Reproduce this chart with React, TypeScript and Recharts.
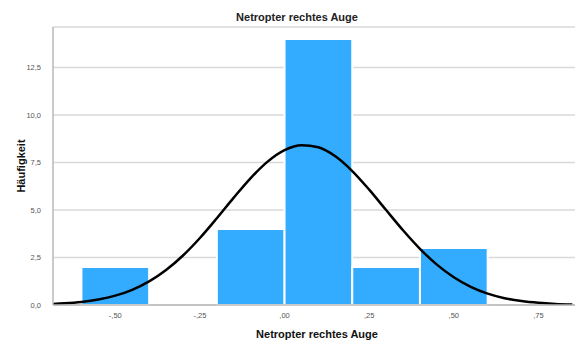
import React from 'react';
import { ComposedChart, Line, XAxis, YAxis, CartesianGrid, ReferenceArea } from 'recharts';

// Histogram bins (Netropter rechtes Auge)
const binStarts = [-0.6, -0.2, 0.0, 0.2, 0.4];
const binEnds = [-0.4, 0.0, 0.2, 0.4, 0.6];
const counts = [2, 4, 14, 2, 3];

// Normal curve
const curveX = [-0.7, -0.65, -0.6, -0.55, -0.5, -0.45, -0.4, -0.35, -0.3, -0.25, -0.2, -0.15, -0.1, -0.05, 0.0, 0.05, 0.1, 0.15, 0.2, 0.25, 0.3, 0.35, 0.4, 0.45, 0.5, 0.55, 0.6, 0.65, 0.7, 0.75, 0.8, 0.85];
const curveY = [0.045, 0.088, 0.163, 0.29, 0.492, 0.799, 1.24, 1.838, 2.604, 3.527, 4.566, 5.649, 6.678, 7.546, 8.15, 8.412, 8.299, 7.825, 7.051, 6.073, 4.998, 3.932, 2.956, 2.124, 1.459, 0.957, 0.601, 0.36, 0.206, 0.113, 0.059, 0.03];

const xTicks = [-0.5, -0.25, 0, 0.25, 0.5, 0.75];
const yTicks = [0, 2.5, 5, 7.5, 10, 12.5];

const curveData = curveX.map((x, i) => ({ x, y: curveY[i] }));

const fmtX = (v: number) => v.toFixed(2).replace('0.', ',');
const fmtY = (v: number) => v.toFixed(1).replace('.', ',');

const font = '"Liberation Sans", Arial, sans-serif';

export default function App() {
  return (
    <div style={{ position: 'absolute', left: 0, top: 0, width: 575, height: 341, background: '#fff', fontFamily: font }}>
      <ComposedChart width={575} height={341} data={curveData} margin={{ top: 27, right: 0, bottom: 0, left: 0 }}>
        <CartesianGrid vertical={false} stroke="#d9d9d9" strokeWidth={1.5} />
        <XAxis
          dataKey="x"
          type="number"
          domain={[-0.684, 0.858]}
          ticks={xTicks}
          tickFormatter={fmtX}
          allowDataOverflow
          height={36}
          tickLine={false}
          axisLine={{ stroke: '#b8b8b8', strokeWidth: 1.5 }}
          tick={{ fontSize: 7.5, fill: '#555', fontFamily: font }}
          tickMargin={2}
        />
        <YAxis
          type="number"
          domain={[0, 14.63]}
          ticks={yTicks}
          tickFormatter={fmtY}
          allowDataOverflow
          width={53}
          tickLine={false}
          axisLine={{ stroke: '#b8b8b8', strokeWidth: 1.5 }}
          tick={{ fontSize: 7.5, fill: '#555', fontFamily: font }}
          tickMargin={6}
        />
        {binStarts.map((s, i) => (
          <ReferenceArea
            key={i}
            x1={s}
            x2={binEnds[i]}
            y1={0}
            y2={counts[i]}
            fill="#33acff"
            fillOpacity={1}
            stroke="#ffffff"
            strokeWidth={2}
            strokeOpacity={1}
          />
        ))}
        <Line
          dataKey="y"
          type="monotone"
          stroke="#000"
          strokeWidth={2.5}
          dot={false}
          activeDot={false}
          isAnimationActive={false}
        />
      </ComposedChart>
      <div style={{ position: 'absolute', left: 197, width: 200, top: 9, textAlign: 'center', fontSize: 11, fontWeight: 'bold', color: '#222', lineHeight: '16px' }}>
        Netropter rechtes Auge
      </div>
      <div style={{ position: 'absolute', left: 217, width: 200, top: 326, textAlign: 'center', fontSize: 11, fontWeight: 'bold', color: '#111', lineHeight: '16px' }}>
        Netropter rechtes Auge
      </div>
      <div style={{ position: 'absolute', left: 20.5, top: 165.5, width: 0, height: 0 }}>
        <div style={{ position: 'absolute', left: -50, top: -8, width: 100, textAlign: 'center', fontSize: 11, fontWeight: 'bold', color: '#111', lineHeight: '16px', transform: 'rotate(-90deg)' }}>
          Häufigkeit
        </div>
      </div>
    </div>
  );
}
